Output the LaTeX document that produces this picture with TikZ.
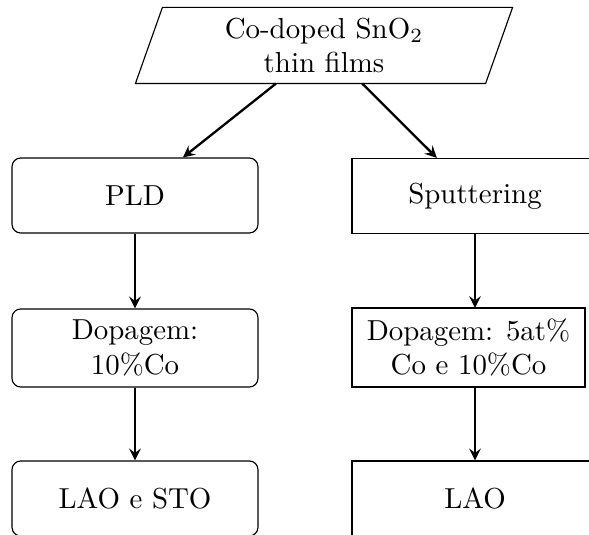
\documentclass[tikz,border=0pt]{standalone}
\usetikzlibrary{calc}
\begin{document}
\begin{tikzpicture}[x=0.346pt, y=-0.346pt,
  roundbox/.style={draw, rounded corners=3pt, minimum width=85.1pt, minimum height=25.95pt, align=center, inner sep=2pt},
  sharpbox/.style={draw, minimum width=85.1pt, minimum height=25.95pt, align=center, inner sep=2pt},
  flow/.style={thick, -stealth}]
\useasboundingbox (0,0) rectangle (589,535);
% source (parallelogram)
\node[minimum width=130.1pt, minimum height=25.95pt, align=center, inner sep=0pt] (src) at (324,45.5) {Co-doped SnO$_2$\\thin films};
\draw ($(src.south west)$) -- ($(src.south east)+(-27,0)$) -- (src.north east) -- ($(src.north west)+(27,0)$) -- cycle;
% left column
\node[roundbox] (pld) at (135,195.5) {PLD};
\node[roundbox, minimum height=27pt] (dopl) at (135,348) {Dopagem:\\10\%Co};
\node[roundbox] (laosto) at (135,498.5) {LAO e STO};
% right column
\node[sharpbox] (sput) at (475,196) {Sputtering};
\node[sharpbox, minimum width=80.6pt, minimum height=27.3pt] (dopr) at (468.5,347.5) {Dopagem: 5at\%\\Co e 10\%Co};
\node[sharpbox] (lao) at (475,498.5) {LAO};
\coordinate (dtop) at (475,308);
\coordinate (dbot) at (475,387);
% connectors
\draw[flow] (src) -- (pld);
\draw[flow] (src) -- (sput);
\draw[flow] (pld) -- (dopl);
\draw[flow] (dopl) -- (laosto);
\draw[flow] (sput.south) -- (dtop);
\draw[flow] (dbot) -- (lao.north);
\end{tikzpicture}
\end{document}
